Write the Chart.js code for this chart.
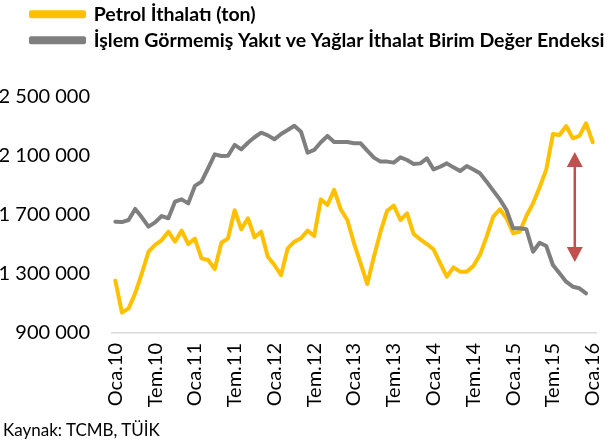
<!DOCTYPE html>
<html><head><meta charset="utf-8">
<script src="https://cdn.jsdelivr.net/npm/chart.js@4"></script>
<style>
html,body{margin:0;padding:0;background:#fff;overflow:hidden;}
#wrap{position:relative;width:615px;height:441px;overflow:hidden;background:#fff;}
#c{position:absolute;left:0;top:-2px;}
#src{position:absolute;left:3px;top:420px;font:17px Lato;color:#000;line-height:20px;white-space:nowrap;}
</style></head><body>
<div id="wrap"><canvas id="c" width="615" height="443"></canvas><div id="src"></div></div>
<script>
const years = [10, 11, 12, 13, 14, 15, 16];
const months = ['Oca','Şub','Mar','Nis','May','Haz','Tem','Ağu','Eyl','Eki','Kas','Ara'];
const lastCategory = 'Oca.16';
const categories = [];
outer: for (const y of years) { for (const m of months) { categories.push(m + '.' + y); if (m + '.' + y === lastCategory) break outer; } }

const seriesNames = ['Petrol İthalatı (ton)', 'İşlem Görmemiş Yakıt ve Yağlar İthalat Birim Değer Endeksi'];
const petrol = [
 1255000,1038000,1067000,1169000,1305000,1451000,1497000,1530000,1587000,1519000,1594000,1503000,
 1540000,1406000,1395000,1334000,1512000,1542000,1732000,1603000,1678000,1549000,1587000,1417000,
 1361000,1293000,1474000,1519000,1542000,1594000,1558000,1806000,1768000,1870000,1739000,1666000,
 1508000,1372000,1232000,1417000,1587000,1729000,1763000,1666000,1711000,1571000,1535000,1503000,
 1467000,1372000,1282000,1345000,1316000,1316000,1354000,1430000,1553000,1689000,1739000,1678000,
 1576000,1587000,1693000,1779000,1888000,2009000,2249000,2242000,2303000,2220000,2236000,2322000,
 2193000];
const endeks = [
 1655000,1652000,1666000,1741000,1684000,1621000,1650000,1693000,1678000,1790000,1806000,1779000,
 1897000,1926000,2017000,2111000,2100000,2102000,2175000,2145000,2190000,2227000,2258000,2240000,
 2213000,2249000,2276000,2305000,2265000,2122000,2141000,2193000,2236000,2195000,2195000,2195000,
 2186000,2186000,2136000,2089000,2062000,2062000,2055000,2091000,2073000,2046000,2050000,2084000,
 2009000,2027000,2050000,2023000,1998000,2032000,2009000,1983000,1926000,1865000,1806000,1734000,
 1610000,1610000,1603000,1451000,1512000,1490000,1361000,1305000,1248000,1214000,1203000,1169000,
 null];
const yTicks = [900000, 1300000, 1700000, 2100000, 2500000];
const labelEvery = 6;
const arrowMark = { index: 69.3, from: 2127000, to: 1381000 };
const sourceText = 'Kaynak: TCMB, TÜİK';

document.getElementById('src').textContent = sourceText;

const fmt = v => String(v).replace(/\B(?=(\d{3})+(?!\d))/g, ' ');

const legendSpacer = {
  id: 'legendSpacer',
  beforeInit(chart) {
    const orig = chart.legend.fit;
    chart.legend.fit = function () { orig.call(this); this.height = 99; };
  },
  afterLayout(chart) {
    const lg = chart.legend;
    lg.left = 24.5;
    lg.right = chart.width;
    lg.width = lg.right - lg.left;
  }
};
const arrowPlugin = {
  id: 'arrowPlugin',
  afterDatasetsDraw(chart) {
    const {ctx, scales: {x, y}} = chart;
    const px = x.getPixelForValue(arrowMark.index);
    const y1 = y.getPixelForValue(arrowMark.from);
    const y2 = y.getPixelForValue(arrowMark.to);
    const hl = 15, hw = 8;
    ctx.save();
    ctx.strokeStyle = '#C0504D'; ctx.fillStyle = '#C0504D'; ctx.lineWidth = 2.5;
    ctx.beginPath(); ctx.moveTo(px, y1 + hl - 1); ctx.lineTo(px, y2 - hl + 1); ctx.stroke();
    ctx.beginPath(); ctx.moveTo(px, y1); ctx.lineTo(px - hw, y1 + hl); ctx.lineTo(px + hw, y1 + hl); ctx.closePath(); ctx.fill();
    ctx.beginPath(); ctx.moveTo(px, y2); ctx.lineTo(px - hw, y2 - hl); ctx.lineTo(px + hw, y2 - hl); ctx.closePath(); ctx.fill();
    ctx.restore();
  }
};

new Chart(document.getElementById('c'), {
  type: 'line',
  data: {
    labels: categories,
    datasets: [
      { label: seriesNames[0], data: petrol, borderColor: '#FFC000', backgroundColor: '#FFC000', borderWidth: 4, pointRadius: 0, tension: 0, borderJoinStyle: 'round', borderCapStyle: 'round', order: 2 },
      { label: seriesNames[1], data: endeks, borderColor: '#7F7F7F', backgroundColor: '#7F7F7F', borderWidth: 4, pointRadius: 0, tension: 0, borderJoinStyle: 'round', borderCapStyle: 'round', order: 1, spanGaps: false }
    ]
  },
  options: {
    responsive: false, animation: false, devicePixelRatio: 1,
    layout: { padding: { left: 0, right: 19, top: 0, bottom: 0 } },
    plugins: {
      legend: {
        position: 'top', align: 'start',
        labels: {
          boxWidth: 53, boxHeight: 4, padding: 6.5, color: '#000',
          font: { family: 'Lato', size: 19.5, weight: 'bold' },
          sort: (a, b) => a.datasetIndex - b.datasetIndex
        }
      },
      tooltip: { enabled: false },
      title: { display: false }
    },
    scales: {
      x: {
        offset: true,
        grid: { display: false, drawTicks: false },
        border: { display: true, color: '#D9D9D9', width: 1.5 },
        ticks: {
          autoSkip: false, maxRotation: 90, minRotation: 90, padding: 10,
          color: '#000', font: { family: 'Lato', size: 20 },
          callback: (v, i) => (i % labelEvery === 0 ? categories[i] : '')
        },
        afterFit: s => { s.height = 108; s.paddingLeft = 0; s.paddingRight = 0; }
      },
      y: {
        min: yTicks[0], max: yTicks[yTicks.length - 1],
        grid: { display: false, drawTicks: false },
        border: { display: false },
        afterBuildTicks: s => { s.ticks = yTicks.map(v => ({ value: v })); },
        ticks: { padding: 22, color: '#000', font: { family: 'Lato', size: 20 }, callback: v => fmt(v) },
        afterFit: s => { s.width = 112; }
      }
    }
  },
  plugins: [legendSpacer, arrowPlugin]
});
</script>
</body></html>
